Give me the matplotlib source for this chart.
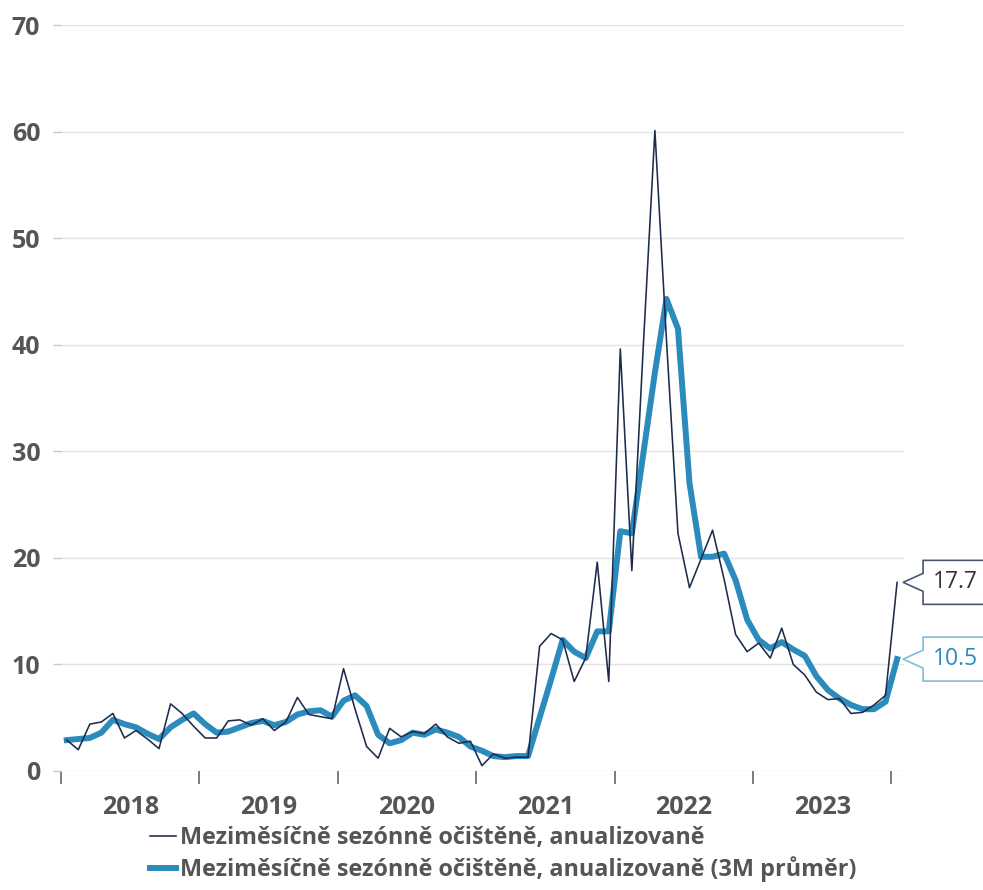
import numpy as np
import matplotlib
matplotlib.use("Agg")
import matplotlib.pyplot as plt
from matplotlib.patches import Polygon
from matplotlib.transforms import IdentityTransform

plt.rcParams['font.family'] = ['Open Sans', 'DejaVu Sans']

# ---- data (monthly, Jan 2018 .. Jan 2024) ----
years = ["2018", "2019", "2020", "2021", "2022", "2023"]
raw_mom = [2.9, 2.0, 4.4, 4.6, 5.4, 3.1, 3.8, 3.0, 2.1, 6.3, 5.4, 4.2,
           3.1, 3.1, 4.7, 4.8, 4.3, 4.9, 3.8, 4.6, 6.9, 5.3, 5.1, 4.9,
           9.6, 5.8, 2.3, 1.2, 4.0, 3.2, 3.7, 3.5, 4.4, 3.2, 2.6, 2.8,
           0.5, 1.6, 1.2, 1.3, 1.3, 11.7, 12.9, 12.3, 8.4, 10.6, 19.6, 8.4,
           39.6, 18.8, 40.0, 60.1, 40.5, 22.3, 17.2, 19.9, 22.6, 18.0, 12.8, 11.2,
           12.0, 10.6, 13.4, 10.0, 9.0, 7.4, 6.7, 6.8, 5.4, 5.5, 6.2, 7.1,
           17.7]
avg_3m = [2.9, 3.0, 3.1, 3.6, 4.8, 4.4, 4.1, 3.5, 3.0, 4.1, 4.8, 5.4,
          4.4, 3.6, 3.7, 4.1, 4.5, 4.7, 4.3, 4.6, 5.3, 5.6, 5.7, 5.1,
          6.6, 7.1, 6.1, 3.4, 2.6, 2.9, 3.6, 3.4, 3.9, 3.6, 3.2, 2.3,
          1.9, 1.4, 1.3, 1.4, 1.4, 5.0, 8.6, 12.3, 11.2, 10.6, 13.1, 13.1,
          22.5, 22.3, 29.8, 37.4, 44.3, 41.5, 27.0, 20.1, 20.1, 20.4, 17.9, 14.2,
          12.3, 11.5, 12.1, 11.4, 10.8, 8.9, 7.6, 6.8, 6.2, 5.8, 5.8, 6.5,
          10.5]
label_raw = "Meziměsíčně sezónně očištěně, anualizovaně"
label_avg = "Meziměsíčně sezónně očištěně, anualizovaně (3M průměr)"
yticks = [0, 10, 20, 30, 40, 50, 60, 70]

# ---- styling ----
C_RAW = "#1d2b4c"
C_AVG = "#2b8bbd"
C_TXT = "#555555"
C_GRID = "#e4e4e4"

W, H = 983, 890
fig = plt.figure(figsize=(W / 100, H / 100), dpi=100)
ax_l, ax_r, ax_b, ax_t = 61, 904, 771, 25
ax = fig.add_axes([ax_l / W, 1 - ax_b / H, (ax_r - ax_l) / W, (ax_b - ax_t) / H])

n = len(raw_mom)
x = np.arange(n) + 0.5

ax.plot(x, raw_mom, color=C_RAW, lw=1.15, label=label_raw, zorder=3)
ax.plot(x, avg_3m, color=C_AVG, lw=4.3, label=label_avg, zorder=2,
        solid_joinstyle='round')

ax.set_ylim(0, 70)
ax.set_xlim(0, 73.1)
ax.set_yticks(yticks)
ax.grid(axis='y', color=C_GRID, lw=1.0)
ax.set_axisbelow(True)
for s in ax.spines.values():
    s.set_visible(False)

ax.tick_params(axis='y', length=6, width=1, color="#c8c8c8", pad=9,
               labelsize=18, labelcolor=C_TXT)
for t in ax.get_yticklabels():
    t.set_fontweight('bold')

major = np.arange(0, 12 * len(years) + 1, 12)
ax.set_xticks(major)
ax.set_xticklabels([])
ax.set_xticks(major[:-1] + 6, minor=True)
ax.set_xticklabels(years, minor=True)
ax.tick_params(axis='x', which='major', length=9, width=1.2, color="#666666")
ax.tick_params(axis='x', which='minor', length=0, pad=17, labelsize=18,
               labelcolor=C_TXT)
for t in ax.get_xticklabels(minor=True):
    t.set_fontweight('bold')

leg = ax.legend(loc='upper left', bbox_to_anchor=(150 / W, 1 - 826 / H),
                bbox_transform=fig.transFigure, frameon=False,
                prop={'size': 16.8, 'weight': 'bold'}, handlelength=1.1,
                handletextpad=0.2, labelspacing=0.25, borderpad=0,
                borderaxespad=0)
for t in leg.get_texts():
    t.set_color(C_TXT)

# ---- value callouts ----
fig.canvas.draw()


def callout(value, edge, txtcolor):
    px, py = ax.transData.transform((x[-1], value))
    tip = px + 6
    left = tip + 20
    half = 22
    notch = 9
    pts = [(left, py + half), (W + 20, py + half), (W + 20, py - half),
           (left, py - half), (left, py - notch), (tip, py),
           (left, py + notch)]
    poly = Polygon(pts, closed=True, facecolor='white', edgecolor=edge,
                   lw=1.2, transform=IdentityTransform(), clip_on=False,
                   zorder=5)
    fig.add_artist(poly)
    fig.text((left + 10) / W, py / H, f"{value:.1f}", ha='left', va='center',
             fontsize=16.5, color=txtcolor, zorder=6)


callout(raw_mom[-1], "#4a5670", "#333333")
callout(avg_3m[-1], "#7fbde0", C_AVG)

fig.savefig("out.png", dpi=100)
